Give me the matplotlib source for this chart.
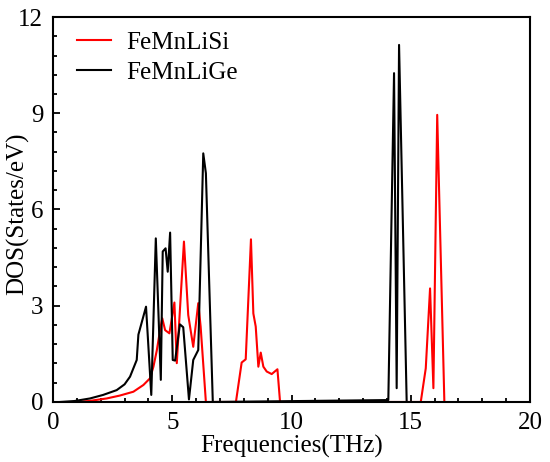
import matplotlib
matplotlib.use('Agg')
import matplotlib.pyplot as plt
from matplotlib.ticker import MultipleLocator

plt.rcParams['font.family'] = ['Liberation Serif', 'DejaVu Serif']

# FeMnLiSi
si_freq = [0.9, 1.5, 2.25, 2.8, 3.37, 3.79, 4.07, 4.21, 4.35, 4.49, 4.58, 4.70, 4.88,
           5.09, 5.19, 5.49, 5.67, 5.88, 6.09, 6.19, 6.41,
           7.67, 7.91, 8.08, 8.30, 8.40, 8.50, 8.61, 8.71, 8.82, 8.96, 9.17, 9.41, 9.52,
           15.42, 15.63, 15.81, 15.95, 16.11, 16.41]
si_dos = [0.0, 0.03, 0.11, 0.2, 0.32, 0.53, 0.74, 1.10, 1.6, 2.24, 2.61, 2.24, 2.14,
          3.10, 1.21, 5.0, 2.71, 1.72, 3.08, 2.35, 0.0,
          0.0, 1.23, 1.33, 5.07, 2.76, 2.35, 1.10, 1.54, 1.10, 0.95, 0.87, 1.02, 0.0,
          0.0, 1.05, 3.54, 0.43, 8.95, 0.0]

# FeMnLiGe
ge_freq = [0.3, 0.9, 1.55, 2.1, 2.67, 3.0, 3.23, 3.51, 3.58, 3.9, 4.12, 4.31, 4.52,
           4.60, 4.72, 4.81, 4.91, 5.02, 5.12, 5.32, 5.46, 5.70, 5.88, 6.09, 6.30,
           6.41, 6.70,
           14.06, 14.30, 14.41, 14.51, 14.83]
ge_dos = [0.0, 0.03, 0.11, 0.22, 0.37, 0.55, 0.79, 1.31, 2.1, 2.97, 0.22, 5.10, 0.69,
          4.69, 4.79, 4.06, 5.28, 1.31, 1.29, 2.42, 2.33, 0.08, 1.31, 1.62, 7.75,
          7.13, 0.0,
          0.06, 10.25, 0.43, 11.13, 0.0]

fig = plt.figure(figsize=(5.5, 4.62), dpi=100)
ax = fig.add_axes([0.0964, 0.1299, 0.8672, 0.8333])

ax.plot(si_freq, si_dos, color='#ff0000', lw=1.5, label='FeMnLiSi')
ax.plot(ge_freq, ge_dos, color='black', lw=1.5, label='FeMnLiGe')

ax.set_xlim(0, 20)
ax.set_ylim(0, 12)
ax.xaxis.set_major_locator(MultipleLocator(5))
ax.xaxis.set_minor_locator(MultipleLocator(1))
ax.yaxis.set_major_locator(MultipleLocator(3))
ax.yaxis.set_minor_locator(MultipleLocator(0.6))
ax.tick_params(which='both', direction='in', top=False, right=False, labelsize=18, width=1.3)
ax.tick_params(axis='x', pad=7)
ax.tick_params(axis='y', pad=7)
ax.tick_params(which='major', length=5)
ax.tick_params(which='minor', length=3)
for s in ax.spines.values():
    s.set_linewidth(1.5)

ax.set_xlabel('Frequencies(THz)', fontsize=18)
ax.xaxis.set_label_coords(0.5, -0.085)
ax.set_ylabel('DOS(States/eV)', fontsize=18)
ax.yaxis.set_label_coords(-0.05, 0.49)

ax.legend(loc='upper left', frameon=False, fontsize=18, handlelength=1.35,
          handletextpad=0.6, borderaxespad=0.1, labelspacing=0.3,
          bbox_to_anchor=(0.025, 0.995))

fig.savefig('out.png', dpi=100)
